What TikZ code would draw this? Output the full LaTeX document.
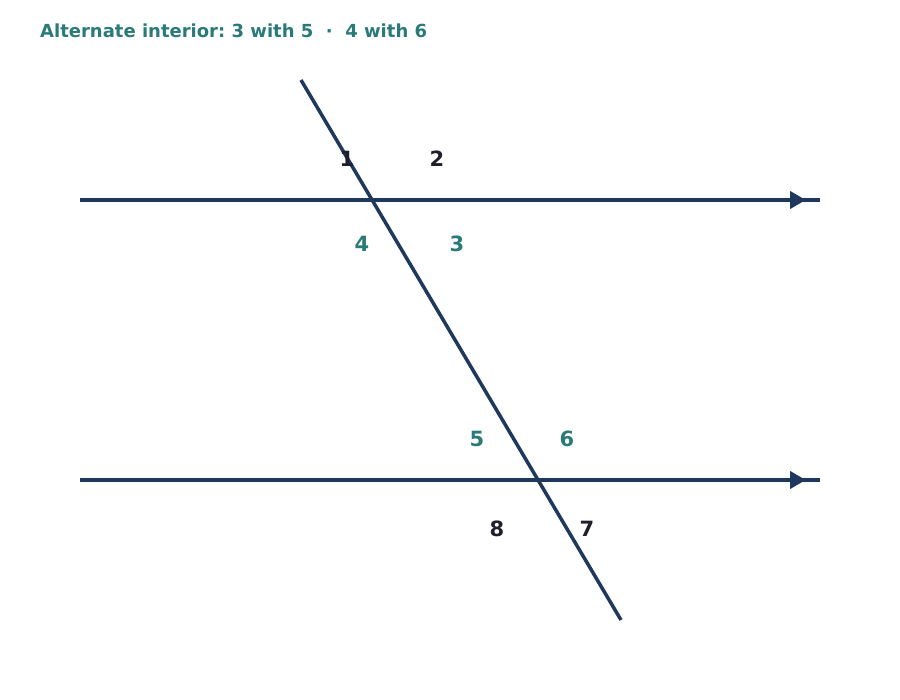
\documentclass[tikz,border=0pt]{standalone}
\usepackage{fontspec}
\setmainfont{DejaVu Sans}
\usepackage{xcolor}
\usetikzlibrary{arrows.meta,decorations.markings}
\definecolor{linenavy}{RGB}{30,56,94}
\definecolor{angleteal}{RGB}{42,122,122}
\definecolor{angledark}{RGB}{30,31,40}
\frenchspacing

\begin{document}
\begin{tikzpicture}[x=1pt, y=-1pt,
    parline/.style={line width=4pt, linenavy, postaction={decorate},
        decoration={markings, mark=at position 726pt with {\arrow{Triangle[length=16pt,width=17pt]}}}},
    transline/.style={line width=3.5pt, linenavy},
    anglelbl/.style={font=\bfseries\fontsize{21}{25}\selectfont, inner sep=0pt},
    extlbl/.style={anglelbl, angledark},
    intlbl/.style={anglelbl, angleteal}]
    \useasboundingbox (0,0) rectangle (900,700);

    % Title
    \node[anchor=west, angleteal, inner sep=0pt, font=\bfseries\fontsize{18}{22}\selectfont] (title) at (40,31)
        {Alternate interior: 3 with 5\ \ ·\ \ 4 with 6};

    % Parallel lines
    \coordinate (topL) at (80,200);
    \coordinate (topR) at (820,200);
    \coordinate (botL) at (80,480);
    \coordinate (botR) at (820,480);
    \draw[parline] (topL) -- (topR);
    \draw[parline] (botL) -- (botR);

    % Transversal
    \coordinate (transA) at (301,80);
    \coordinate (transB) at (621,620);
    \draw[transline] (transA) -- (transB);

    % Angles at upper crossing
    \node[extlbl] (a1) at (347,159) {1};
    \node[extlbl] (a2) at (437,159) {2};
    \node[intlbl] (a3) at (457,244) {3};
    \node[intlbl] (a4) at (362,244) {4};

    % Angles at lower crossing
    \node[intlbl] (a5) at (477,439) {5};
    \node[intlbl] (a6) at (567,439) {6};
    \node[extlbl] (a7) at (587,529) {7};
    \node[extlbl] (a8) at (497,529) {8};
\end{tikzpicture}
\end{document}
